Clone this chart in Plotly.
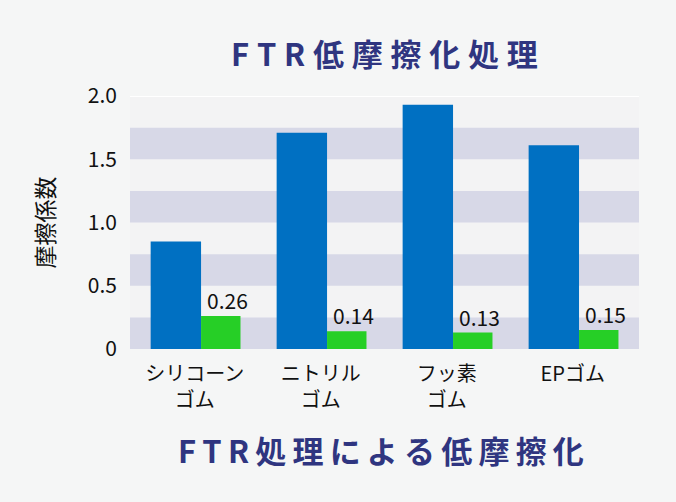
import plotly.graph_objects as go

categories = ["シリコーン<br>ゴム", "ニトリル<br>ゴム", "フッ素<br>ゴム", "EPゴム"]
untreated = [0.85, 1.71, 1.93, 1.61]
ftr_treated = [0.26, 0.14, 0.13, 0.15]
y_ticks = [0, 0.5, 1.0, 1.5, 2.0]
y_tick_text = ["0", "0.5", "1.0", "1.5", "2.0"]
title_top = "FTR低摩擦化処理"
title_bottom = "FTR処理による低摩擦化"
y_title = "摩擦係数"

FONT = "Noto Sans CJK JP"
NAVY = "#2f3580"
BLUE = "#0070c2"
GREEN = "#26cf26"
STRIPE = "#d7d8e7"
PAGE = "#f5f6f6"

xs = list(range(len(categories)))

def spaced(s, sep):
    return sep.join(list(s))

fig = go.Figure()
fig.add_trace(go.Bar(x=xs, y=untreated, marker_color=BLUE, marker_line_width=0,
                     width=0.40, offset=-0.35, showlegend=False, hoverinfo="y"))
fig.add_trace(go.Bar(x=xs, y=ftr_treated, marker_color=GREEN, marker_line_width=0,
                     width=0.313, offset=0.05, showlegend=False, hoverinfo="y"))

shapes = []
for lo in [0, 0.5, 1.0, 1.5]:
    shapes.append(dict(type="rect", xref="paper", yref="y", x0=0, x1=1, y0=lo, y1=lo + 0.25,
                       fillcolor=STRIPE, line_width=0, layer="below"))
shapes.append(dict(type="line", xref="paper", yref="y", x0=0, x1=1, y0=2.0, y1=2.0,
                   line=dict(color="white", width=2), layer="below"))

annotations = []
for x, v in zip(xs, ftr_treated):
    annotations.append(dict(x=x + 0.2065, y=v, xref="x", yref="y", text=f"{v:.2f}",
                            showarrow=False, yanchor="bottom", xshift=7, yshift=-1,
                            font=dict(family=FONT, size=21, color="#111111")))
annotations.append(dict(xref="paper", yref="paper", x=0.5, y=1, yshift=44, text=spaced(title_top, "\u2005"),
                        showarrow=False, yanchor="middle",
                        font=dict(family=FONT, size=31, color=NAVY, weight="bold")))
annotations.append(dict(xref="paper", yref="paper", x=0.5, y=0, yshift=-100, xshift=-4,
                        text=spaced(title_bottom, "\u2009"),
                        showarrow=False, yanchor="middle",
                        font=dict(family=FONT, size=31, color=NAVY, weight="bold")))

fig.update_layout(
    width=676, height=502,
    margin=dict(l=130, r=37, t=96, b=153),
    paper_bgcolor=PAGE,
    plot_bgcolor="#f3f3f4",
    barmode="overlay",
    shapes=shapes,
    annotations=annotations,
    font=dict(family=FONT, color="#111111"),
    xaxis=dict(range=[-0.514, 3.526], tickvals=xs, ticktext=categories, showgrid=False,
               zeroline=False, showline=False, ticks="", ticklabelstandoff=11,
               tickfont=dict(size=20, color="#111111")),
    yaxis=dict(range=[0, 2.0], tickvals=y_ticks, ticktext=y_tick_text, showgrid=False,
               zeroline=False, showline=False, ticks="", ticklabelstandoff=12,
               tickfont=dict(size=21, color="#111111"),
               title=dict(text=y_title, font=dict(size=23, color="#111111"), standoff=26)),
)

fig.write_html("out.html", config={"displayModeBar": False},
               post_script="document.body.style.margin='0';document.body.style.background='%s';" % PAGE)
